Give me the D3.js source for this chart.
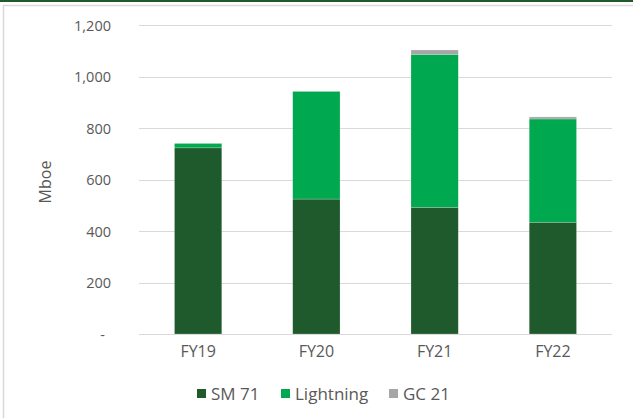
<!DOCTYPE html>
<html><head><meta charset="utf-8">
<script src="https://cdn.jsdelivr.net/npm/d3@7"></script>
<style>body{margin:0;background:#fff;}svg{display:block;font-family:"Open Sans",sans-serif;}</style>
</head><body>
<svg id="c" width="633" height="418"></svg>
<script>
const categories = ["FY19","FY20","FY21","FY22"];
const seriesNames = ["SM 71","Lightning","GC 21"];
const sm71 = [723, 524, 492, 434];
const lightning = [17, 418, 594, 401];
const gc21 = [0, 0, 17, 8];
const yTicks = [0,200,400,600,800,1000,1200];
const colors = ["#1f5a2d","#00a84f","#a6a6a6"];

const svg = d3.select("#c");
// frame
svg.append("rect").attr("x",0).attr("y",0).attr("width",633).attr("height",2).attr("fill","#1f5a2d");
svg.append("line").attr("x1",3.5).attr("x2",3.5).attr("y1",5).attr("y2",418).attr("stroke","#d9d9d9").attr("stroke-width",1.5);
svg.append("line").attr("x1",3).attr("x2",633).attr("y1",5.5).attr("y2",5.5).attr("stroke","#d9d9d9").attr("stroke-width",1.5);

const x = d3.scaleBand().domain(categories).range([139,612]).paddingInner(0.6).paddingOuter(0.3);
const y = d3.scaleLinear().domain([0,1200]).range([334,25]);

// grid
svg.append("g").selectAll("line").data(yTicks).join("line")
  .attr("x1",139).attr("x2",612)
  .attr("y1",d=>Math.round(y(d))+0.5).attr("y2",d=>Math.round(y(d))+0.5)
  .attr("stroke","#d9d9d9").attr("stroke-width",1.2);

const yAxis = d3.axisLeft(y).tickValues(yTicks).tickSize(0).tickPadding(0)
  .tickFormat(d=> d===0 ? "-" : d3.format(",")(d));
const ga = svg.append("g").attr("transform","translate(111,0)").call(yAxis);
ga.select(".domain").remove();
ga.selectAll("text").attr("fill","#595959").attr("font-size","14.5px").attr("font-family","'Open Sans',sans-serif").attr("dy","0.35em");
ga.selectAll(".tick").filter(d=>d===0).select("text").attr("dx","-6");

const xAxis = d3.axisBottom(x).tickSize(0).tickPadding(0);
const gx = svg.append("g").attr("transform","translate(0,346)").call(xAxis);
gx.select(".domain").remove();
gx.selectAll("text").attr("fill","#595959").attr("font-size","16px").attr("font-family","'Open Sans',sans-serif").attr("dy","0.71em");

const table = categories.map((c,i)=>({cat:c,"SM 71":sm71[i],"Lightning":lightning[i],"GC 21":gc21[i]}));
const stack = d3.stack().keys(seriesNames)(table);
svg.append("g").selectAll("g").data(stack).join("g")
  .attr("fill",(d,i)=>colors[i])
  .selectAll("rect").data(d=>d).join("rect")
  .attr("x",d=>x(d.data.cat)).attr("width",x.bandwidth())
  .attr("y",d=>y(d[1])).attr("height",d=>y(d[0])-y(d[1]))
  .attr("stroke","#ffffff").attr("stroke-opacity",0.35).attr("stroke-width",0.6);

svg.append("text").attr("transform","translate(51,182) rotate(-90)")
  .attr("text-anchor","middle").attr("fill","#595959").attr("font-size","16px").text("Mboe");

// legend
const legX = [197,281,389];
const lg = svg.append("g");
seriesNames.forEach((n,i)=>{
  lg.append("rect").attr("x",legX[i]).attr("y",389).attr("width",9).attr("height",9).attr("fill",colors[i]);
  lg.append("text").attr("x",legX[i]+14).attr("y",394).attr("dy","0.35em").attr("fill","#595959")
    .attr("font-size","17px").text(n);
});
</script>
</body></html>
